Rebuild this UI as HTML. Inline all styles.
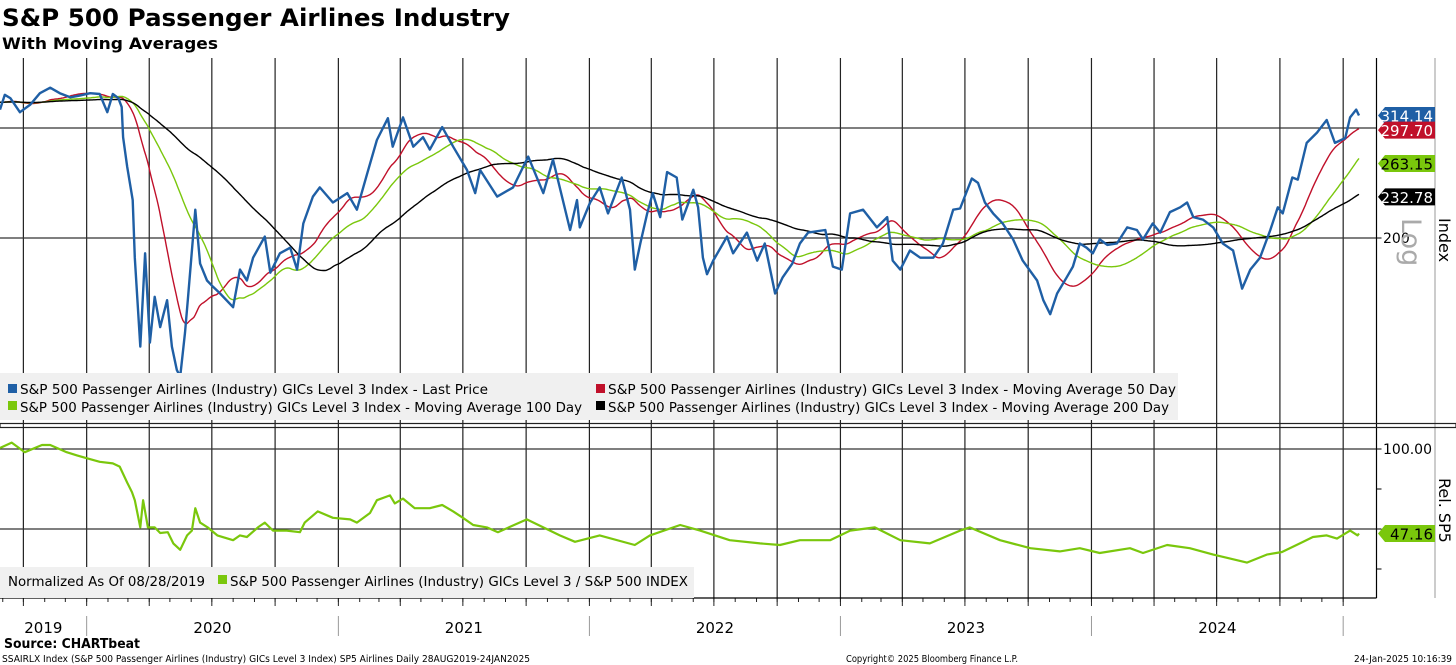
<!DOCTYPE html>
<html><head><meta charset="utf-8">
<style>
html,body{margin:0;padding:0;background:#fff;}
svg{display:block;font-family:"DejaVu Sans","Liberation Sans",sans-serif;}
</style></head>
<body>
<svg id="chart" width="1456" height="665" viewBox="0 0 1456 665" xmlns="http://www.w3.org/2000/svg">
<text x="2" y="26" font-size="24" font-weight="bold" textLength="508" lengthAdjust="spacingAndGlyphs">S&amp;P 500 Passenger Airlines Industry</text>
<text x="2" y="49" font-size="16" font-weight="bold" textLength="216" lengthAdjust="spacingAndGlyphs">With Moving Averages</text>
<g id="grid"></g>
<g id="series"></g>
<g id="axes"></g>
<g id="legend-top">
<rect x="0" y="373" width="1178" height="47" fill="#f0f0f0"/>
<rect x="8" y="384" width="9" height="9" fill="#1f5fa5"/>
<text x="20" y="394" font-size="13" textLength="468" lengthAdjust="spacingAndGlyphs">S&amp;P 500 Passenger Airlines (Industry) GICs Level 3 Index - Last Price</text>
<rect x="596" y="384" width="9" height="9" fill="#c0102a"/>
<text x="608" y="394" font-size="13" textLength="568" lengthAdjust="spacingAndGlyphs">S&amp;P 500 Passenger Airlines (Industry) GICs Level 3 Index - Moving Average 50 Day</text>
<rect x="8" y="401" width="9" height="9" fill="#7ac70c"/>
<text x="20" y="412" font-size="13" textLength="562" lengthAdjust="spacingAndGlyphs">S&amp;P 500 Passenger Airlines (Industry) GICs Level 3 Index - Moving Average 100 Day</text>
<rect x="596" y="401" width="9" height="9" fill="#000"/>
<text x="608" y="412" font-size="13" textLength="561" lengthAdjust="spacingAndGlyphs">S&amp;P 500 Passenger Airlines (Industry) GICs Level 3 Index - Moving Average 200 Day</text>
</g>
<g id="legend-bottom">
<rect x="0" y="567" width="694" height="31" fill="#f0f0f0"/>
<text x="8" y="586" font-size="13" textLength="197" lengthAdjust="spacingAndGlyphs">Normalized As Of 08/28/2019</text>
<rect x="218" y="575" width="9" height="9" fill="#7ac70c"/>
<text x="230" y="586" font-size="13" textLength="458" lengthAdjust="spacingAndGlyphs">S&amp;P 500 Passenger Airlines (Industry) GICs Level 3 / S&amp;P 500 INDEX</text>
</g>
<text x="4" y="648" font-size="13" font-weight="bold" textLength="136" lengthAdjust="spacingAndGlyphs">Source: CHARTbeat</text>
<text x="2" y="662" font-size="9.5" textLength="528" lengthAdjust="spacingAndGlyphs">SSAIRLX Index (S&amp;P 500 Passenger Airlines (Industry) GICs Level 3 Index) SP5 Airlines  Daily 28AUG2019-24JAN2025</text>
<text x="846" y="662" font-size="9.5" textLength="172" lengthAdjust="spacingAndGlyphs">Copyright© 2025 Bloomberg Finance L.P.</text>
<text x="1452" y="662" font-size="9.5" text-anchor="end" textLength="98" lengthAdjust="spacingAndGlyphs">24-Jan-2025 10:16:39</text>
</svg>
<script>
// ---- data ----
const priceDays = [0,7,15,29,44,58,73,87,102,116,131,145,156,164,172,177,179,185,193,196,204,211,218,225,233,243,250,257,262,269,273,284,291,301,310,320,339,349,359,368,385,393,407,422,432,441,455,465,484,505,519,534,548,564,571,586,601,615,625,643,659,679,691,698,723,746,768,790,804,829,839,843,858,872,884,904,916,923,931,941,949,960,970,984,992,1008,1015,1022,1028,1037,1057,1066,1086,1101,1112,1127,1138,1152,1163,1175,1200,1211,1224,1236,1255,1275,1290,1298,1309,1323,1338,1357,1371,1386,1396,1413,1422,1432,1444,1458,1473,1487,1508,1517,1527,1537,1551,1560,1570,1580,1589,1599,1610,1624,1639,1653,1662,1676,1687,1701,1716,1726,1735,1749,1764,1778,1793,1806,1818,1832,1847,1858,1865,1879,1887,1900,1915,1929,1941,1956,1963,1972,1976];
const priceValues = [321,339,335,318,327,341,348,341,336,338,341,340,318,340,335,324,290,260,230,186,134,189,136,161,144,159,134,123,120,141,159,222,182,171,167,163,155,178,171,186,201,176,189,193,178,211,233,241,228,236,222,254,287,311,280,312,280,290,277,301,280,257,236,257,233,241,270,236,267,206,230,208,228,241,219,250,222,178,196,219,236,216,255,250,214,239,224,186,175,184,201,189,204,184,196,163,173,182,196,204,206,180,178,219,222,208,216,184,178,191,186,186,196,222,223,249,245,228,219,211,199,184,171,159,151,163,173,180,196,193,189,199,195,196,208,206,199,211,204,220,224,228,216,214,208,196,191,166,178,186,206,224,219,250,248,284,295,309,284,289,312,321,314.14];
const relDays = [0,17,36,61,73,97,112,128,145,164,174,185,192,196,204,208,215,225,233,244,252,262,272,279,284,291,302,316,339,349,359,375,385,397,417,436,443,462,484,509,519,538,548,567,574,586,603,625,643,659,673,688,708,724,766,814,836,872,923,945,989,1018,1061,1105,1134,1163,1207,1236,1272,1309,1352,1396,1410,1454,1498,1541,1570,1599,1643,1662,1697,1730,1764,1784,1813,1842,1864,1890,1909,1929,1944,1963,1974,1976];
const relValues = [100.6,104,98,102.5,102.5,98,96,94,92,91,89,79,73,68,51,68,51,51,47.5,48,41,37,46,49,63,54,51,46,43,46,45,51,54,49,49,48,54,61,57,56,54,60,68,71,66,69,63,63,65,61,57,52.5,51,48,56,46,42,46,40,46,52.5,49,43,41,40,43,43,49,51,43,41,49,51,43,38,36,38,35,38,35,40,38,34,32,29,34,35.6,41,45,46,44,49,46,47.16];
const maWindows = [70, 140, 280];
const lastLabels = [314.14, 297.70, 263.15, 232.78];
const relLastLabel = 47.16;
const topTicks = [200, 300];
const relTicks = [100, 75, 50, 25];
const yearLabels = ["2019","2020","2021","2022","2023","2024"];

// ---- scales ----
const NS = "http://www.w3.org/2000/svg";
const totalDays = 1976, plotRight = 1376.5, dataRight = 1359;
const xS = d => d * dataRight / totalDays;
const yTop = v => 238 - 271.3 * Math.log(v / 200);
const yRel = v => 449 + (100 - v) * 1.6;
const start = Date.UTC(2019, 7, 28);
const dayOf = (y, m, d) => (Date.UTC(y, m, d) - start) / 86400000;

function mk(tag, attrs, parent) {
  const e = document.createElementNS(NS, tag);
  for (const k in attrs) e.setAttribute(k, attrs[k]);
  parent.appendChild(e);
  return e;
}
const grid = document.getElementById('grid');
const series = document.getElementById('series');
const axes = document.getElementById('axes');

for (let y = 2019; y <= 2025; y++) for (let q = 0; q < 4; q++) {
  const d = dayOf(y, q * 3, 1);
  if (d < 0 || d > totalDays) continue;
  const x = xS(d);
  const l = mk('line', {x1: x, x2: x, y1: 58, y2: 598, stroke: '#222', 'stroke-width': 1.2}, grid);
  
  
  const t = mk('line', {x1: x, x2: x, y1: 598, y2: 606, stroke: '#222', 'stroke-width': 1}, axes);
  
  
}
for (let y = 2019; y <= 2025; y++) for (let m = 0; m < 12; m++) {
  const d = dayOf(y, m, 1);
  if (d < 0 || d > totalDays) continue;
  const x = xS(d);
  const t = mk('line', {x1: x, x2: x, y1: 598, y2: 602, stroke: '#222', 'stroke-width': 1}, axes);
  
  
}
yearLabels.forEach((lab, i) => {
  const yr = +lab;
  const a = Math.max(0, dayOf(yr, 0, 1)), b = Math.min(totalDays, dayOf(yr + 1, 0, 1));
  const t = mk('text', {x: xS((a + b) / 2), y: 633, 'font-size': 15, 'text-anchor': 'middle'}, axes);
  t.textContent = lab;
  
  
  const db = dayOf(yr + 1, 0, 1);
  if (db < totalDays) {
    const dl = mk('line', {x1: xS(db), x2: xS(db), y1: 616, y2: 636, stroke: '#999', 'stroke-width': 1}, axes);
    
    
  }
});
topTicks.forEach(v => {
  const y = yTop(v);
  const l = mk('line', {x1: 0, x2: plotRight, y1: y, y2: y, stroke: '#333', 'stroke-width': 1.2}, grid);
  
  
});
mk('line', {x1: plotRight, x2: plotRight + 5, y1: yTop(200), y2: yTop(200), stroke: '#000'}, axes);
const t200 = mk('text', {x: 1383, y: yTop(200) + 5, 'font-size': 14}, axes);
t200.textContent = '200';


relTicks.forEach(v => {
  const y = yRel(v);
  if (v === 100 || v === 50) {
    const l = mk('line', {x1: 0, x2: plotRight, y1: y, y2: y, stroke: '#333', 'stroke-width': 1.2}, grid);
    
    
  }
  mk('line', {x1: plotRight, x2: plotRight + 5, y1: y, y2: y, stroke: '#000'}, axes);
});
const t100 = mk('text', {x: 1383, y: yRel(100) + 5, 'font-size': 14}, axes);
t100.textContent = '100.00';



mk('line', {x1: plotRight, x2: plotRight, y1: 58, y2: 598, stroke: '#000', 'stroke-width': 1.2}, axes);
mk('line', {x1: 0, x2: plotRight, y1: 598, y2: 598, stroke: '#000', 'stroke-width': 1.2}, axes);
mk('line', {x1: 1435, x2: 1435, y1: 58, y2: 598, stroke: '#999', 'stroke-width': 1}, axes);
mk('rect', {x: 0, y: 423.5, width: 1456, height: 4, fill: 'none', stroke: '#222', 'stroke-width': 1.2}, axes);

function interp(days, vals, d) {
  if (d <= days[0]) return vals[0];
  for (let i = 1; i < days.length; i++) if (d <= days[i]) {
    const f = (d - days[i-1]) / (days[i] - days[i-1]);
    return vals[i-1] + f * (vals[i] - vals[i-1]);
  }
  return vals[vals.length - 1];
}
const daily = [];
const pre = 300;
for (let d = -pre; d <= totalDays; d++) daily.push(d < 0 ? 330 : interp(priceDays, priceValues, d));

function pathFrom(pts) { return pts.map((p, i) => (i ? 'L' : 'M') + p[0].toFixed(1) + ' ' + p[1].toFixed(1)).join(' '); }

const maColors = ['#c0102a', '#7ac70c', '#000'];
const maNames = ['ma-50-line', 'ma-100-line', 'ma-200-line'];
maWindows.forEach((w, k) => {
  const pts = [];
  let sum = 0;
  for (let i = 0; i < daily.length; i++) {
    sum += daily[i];
    if (i >= w) sum -= daily[i - w];
    const d = i - pre;
    if (d >= 0 && d % 2 === 0 || d === totalDays) pts.push([xS(d), yTop(sum / Math.min(w, i + 1))]);
  }
  const p = mk('path', {d: pathFrom(pts), fill: 'none', stroke: maColors[k], 'stroke-width': 1.4}, series);
  
  
});
const priceP = mk('path', {d: pathFrom(priceDays.map((d, i) => [xS(d), yTop(priceValues[i])])), fill: 'none', stroke: '#1f5fa5', 'stroke-width': 2.4, 'stroke-linejoin': 'round'}, series);


const relP = mk('path', {d: pathFrom(relDays.map((d, i) => [xS(d), yRel(relValues[i])])), fill: 'none', stroke: '#7ac70c', 'stroke-width': 2.2, 'stroke-linejoin': 'round'}, series);



function tag(v, y, bg, fg, name) {
  const g = mk('g', {}, axes);
  
  
  mk('path', {d: `M1378 ${y} L1385 ${y-8.5} L1435 ${y-8.5} L1435 ${y+8.5} L1385 ${y+8.5} Z`, fill: bg}, g);
  const t = mk('text', {x: 1433, y: y + 6, 'font-size': 15, fill: fg, 'text-anchor': 'end'}, g);
  t.textContent = v.toFixed(2);
}
const tagBg = ['#1f5fa5', '#c0102a', '#7ac70c', '#000'];
const tagFg = ['#fff', '#fff', '#000', '#fff'];
const tagNames = ['last-price-tag', 'ma-50-tag', 'ma-100-tag', 'ma-200-tag'];
lastLabels.forEach((v, i) => tag(v, yTop(v), tagBg[i], tagFg[i], tagNames[i]));
tag(relLastLabel, yRel(relLastLabel), '#7ac70c', '#000', 'relative-tag');

const logT = mk('text', {x: 0, y: 0, 'font-size': 27, fill: '#aaa', transform: 'translate(1402,218) rotate(90)'}, axes);
logT.textContent = 'Log';


const idxT = mk('text', {x: 0, y: 0, 'font-size': 16, transform: 'translate(1439,218) rotate(90)'}, axes);
idxT.textContent = 'Index';


const relT = mk('text', {x: 0, y: 0, 'font-size': 16, transform: 'translate(1439,478) rotate(90)'}, axes);
relT.textContent = 'Rel. SP5';



const svg = document.getElementById('chart');
svg.appendChild(document.getElementById('legend-top'));
svg.appendChild(document.getElementById('legend-bottom'));
</script>
</body></html>
